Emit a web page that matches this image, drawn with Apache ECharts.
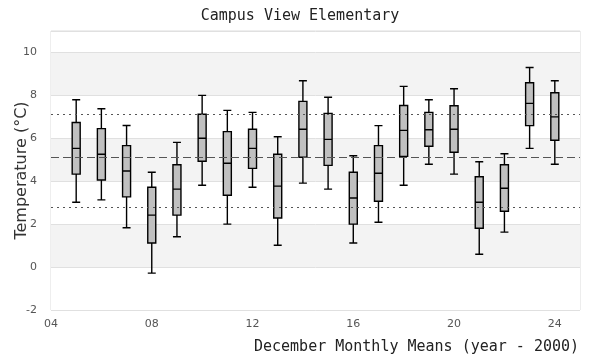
<!DOCTYPE html>
<html>
<head>
<meta charset="utf-8">
<script src="https://cdn.jsdelivr.net/npm/echarts@6/dist/echarts.min.js"></script>
<style>html,body{margin:0;padding:0;background:#fff}#c{width:600px;height:360px}</style>
</head>
<body>
<div id="c"></div>
<script>
const years = [5,6,7,8,9,10,11,12,13,14,15,16,17,18,19,20,21,22,23,24];
const mins    = [3.02,3.13,1.83,-0.28,1.41,3.81,2.00,3.72,1.02,3.91,3.63,1.12,2.09,3.81,4.79,4.33,0.60,1.63,5.53,4.79];
const q1s     = [4.33,4.06,3.27,1.12,2.42,4.93,3.35,4.60,2.29,5.12,4.74,2.00,3.07,5.16,5.63,5.35,1.81,2.60,6.59,5.91];
const medians = [5.53,5.26,4.48,2.42,3.63,6.00,4.84,5.53,3.77,6.42,5.95,3.22,4.37,6.37,6.40,6.42,3.02,3.67,7.63,7.00];
const q3s     = [6.74,6.45,5.66,3.72,4.77,7.12,6.31,6.42,5.26,7.72,7.16,4.42,5.66,7.53,7.21,7.52,4.21,4.77,8.59,8.12];
const maxs    = [7.80,7.38,6.60,4.42,5.81,8.00,7.30,7.21,6.07,8.68,7.91,5.19,6.59,8.42,7.80,8.31,4.91,5.28,9.30,8.68];
const refUpper = 7.10;
const refMean = 5.10;
const refLower = 2.80;
const titleText = 'Campus View Elementary';
const xName = 'December Monthly Means (year - 2000)';
const yName = 'Temperature (°C)';

const boxData = years.map((y, i) => [y, mins[i], q1s[i], medians[i], q3s[i], maxs[i]]);

const chart = echarts.init(document.getElementById('c'), null, {renderer: 'canvas'});
chart.setOption({
  animation: false,
  backgroundColor: '#fff',
  title: {
    text: titleText,
    left: 'center',
    top: 4,
    textStyle: {fontFamily: 'DejaVu Sans Mono', fontSize: 15, fontWeight: 'normal', color: '#222'}
  },
  grid: {left: 51, right: 20, top: 31, bottom: 50, show: true, borderColor: '#dcdcdc', borderWidth: 1,
         backgroundColor: 'transparent', containLabel: false, outerBoundsMode: 'none'},
  xAxis: {
    type: 'value', min: 4, max: 25, interval: 4,
    axisLine: {show: false}, axisTick: {show: false}, splitLine: {show: false},
    axisLabel: {
      color: '#555', fontFamily: 'DejaVu Sans', fontSize: 11, margin: 9, showMaxLabel: false,
      formatter: v => String(v).padStart(2, '0')
    },
    name: xName, nameLocation: 'middle', nameGap: 30, nameMoveOverlap: false,
    nameTextStyle: {fontFamily: 'DejaVu Sans Mono', fontSize: 15, color: '#222', padding: [0, 0, 0, 202]}
  },
  yAxis: {
    type: 'value', min: -2, max: 11, interval: 2,
    axisLine: {show: false}, axisTick: {show: false},
    axisLabel: {color: '#555', fontFamily: 'DejaVu Sans', fontSize: 11, margin: 14, showMaxLabel: false},
    splitLine: {show: true, lineStyle: {color: '#e0e0e0', width: 1}},
    splitArea: {show: true, areaStyle: {color: ['#ffffff', '#f3f3f3']}},
    name: yName, nameLocation: 'middle', nameGap: 21, nameMoveOverlap: false,
    nameTextStyle: {fontFamily: 'DejaVu Sans', fontSize: 16, color: '#333'}
  },
  series: [{
    type: 'boxplot',
    data: boxData,
    encode: {x: 0, y: [1, 2, 3, 4, 5]},
    boxWidth: [8, 8],
    itemStyle: {color: '#c0c0c0', borderColor: '#000', borderWidth: 1.4},
    markLine: {
      silent: true, symbol: 'none', label: {show: false},
      data: [
        {yAxis: refUpper, lineStyle: {type: [2, 4], color: '#555', width: 1}},
        {yAxis: refMean, lineStyle: {type: [8, 4], color: '#555', width: 1}},
        {yAxis: refLower, lineStyle: {type: [2, 4], color: '#555', width: 1}}
      ]
    },
    z: 3
  }]
});
</script>
</body>
</html>
